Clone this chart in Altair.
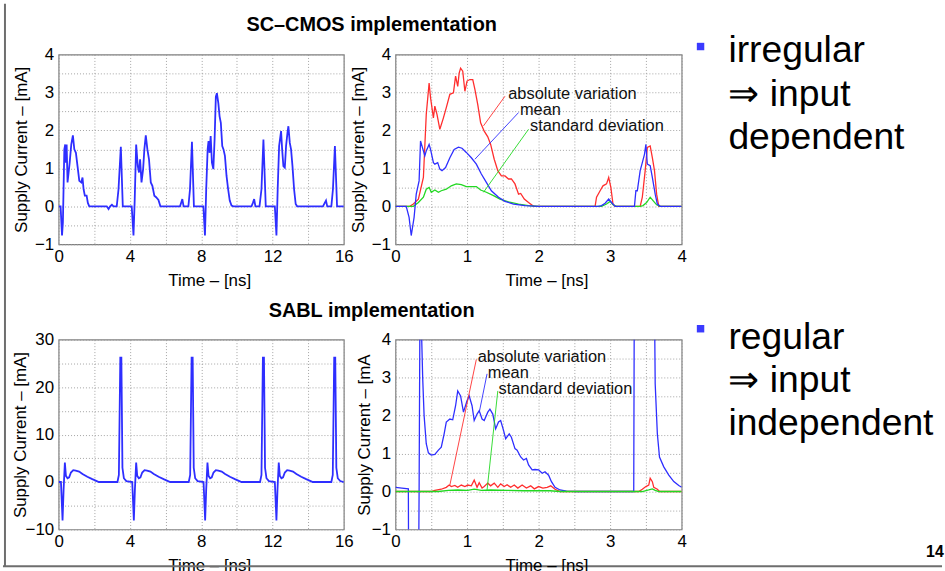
import altair as alt
import pandas as pd

# ---------------- data ----------------
# SC-CMOS, supply current over 16 ns (top left)
p1_t = [0, 0.11, 0.19, 0.24, 0.32, 0.37, 0.41, 0.45, 0.5, 0.56,
        0.62, 0.71, 0.8, 0.88, 0.97, 1.06, 1.16, 1.27, 1.34, 1.4,
        1.47, 1.57, 1.64, 1.72, 2.7, 2.8, 2.89, 2.99, 3.08, 3.26,
        3.36, 3.49, 3.6, 4.1, 4.2, 4.27, 4.35, 4.44, 4.51, 4.57,
        4.65, 4.74, 4.81, 4.89, 4.98, 5.07, 5.17, 5.26, 5.37, 5.47,
        5.6, 5.71, 6.81, 6.87, 6.94, 7.01, 7.28, 7.37, 7.48, 7.59,
        8.12, 8.21, 8.28, 8.36, 8.41, 8.47, 8.53, 8.6, 8.68, 8.75,
        8.82, 8.88, 8.96, 9.03, 9.1, 9.18, 9.25, 9.33, 9.42, 9.51,
        9.6, 9.7, 9.8, 10.82, 10.9, 10.97, 11.04, 11.27, 11.38, 11.49,
        11.62, 12.13, 12.22, 12.29, 12.37, 12.43, 12.48, 12.54, 12.61, 12.69,
        12.76, 12.84, 12.89, 12.97, 13.04, 13.12, 13.21, 13.3, 13.38, 14.83,
        14.93, 15.0, 15.07, 15.3, 15.39, 15.5, 15.62, 16]
p1_v = [0, 0, -0.77, -0.42, 1.5, 1.63, 1.15, 1.63, 0.63, 0.89,
        1.15, 1.63, 1.87, 1.5, 1.41, 1.06, 0.67, 0.63, 0.76, 0.45,
        0.28, 0.28, 0.09, 0, 0, -0.07, 0, 0.04, 0, 0,
        0.45, 1.57, 0, 0, -0.77, 0.19, 1.63, 1.06, 0.89, 1.24,
        0.63, 0.98, 1.5, 1.87, 1.5, 1.24, 0.63, 0.54, 0.28, 0.24,
        0.17, 0, 0, 0.09, 0.19, 0, 0, 0.45, 1.7, 0,
        0, -0.77, 0.45, 1.5, 1.72, 1.41, 1.85, 1.15, 0.98, 1.76,
        2.89, 2.98, 2.72, 2.37, 2.2, 1.59, 1.5, 1.33, 0.8, 0.45,
        0.15, 0.02, 0, 0, 0.09, 0.19, 0, 0, 0.45, 1.76,
        0, 0, -0.77, 0.45, 1.59, 1.8, 1.98, 1.5, 1.06, 1.02,
        1.59, 1.94, 2.11, 1.67, 1.5, 1.06, 0.45, 0.06, 0, 0,
        0.09, 0.15, 0, 0, 0.45, 1.59, 0, 0]

# SC-CMOS statistics over 4 ns (top right)
p2_abs_t = [0, 0.2, 0.25, 0.32, 0.39, 0.43, 0.47, 0.49, 0.53, 0.55,
            0.58, 0.62, 0.67, 0.71, 0.76, 0.81, 0.84, 0.87, 0.89, 0.91,
            0.94, 0.97, 1.0, 1.04, 1.08, 1.11, 1.15, 1.19, 1.24, 1.29,
            1.33, 1.38, 1.43, 1.48, 1.53, 1.58, 1.62, 1.67, 1.72, 1.75,
            1.8, 1.86, 1.93, 2.79, 2.81, 2.86, 2.9, 2.95, 2.98, 3.01,
            3.04, 3.07, 3.42, 3.45, 3.49, 3.52, 3.56, 3.59, 3.62, 3.65,
            3.68, 4.0]
p2_abs_v = [0, 0, 0.06, 0.19, 0.76, 2.42, 3.25, 2.86, 2.33, 2.64,
            2.42, 2.03, 2.33, 2.6, 2.95, 2.99, 3.43, 3.16, 3.51, 3.64,
            3.56, 3.03, 3.3, 3.34, 3.34, 3.08, 2.68, 2.2, 1.98, 1.83,
            1.63, 1.24, 0.94, 0.8, 0.8, 0.72, 0.72, 0.59, 0.32, 0.34,
            0.19, 0.1, 0, 0, 0.24, 0.41, 0.54, 0.59, 0.76, 0.5,
            0.06, 0, 0, 0.24, 0.94, 1.55, 1.59, 1.28, 0.94, 0.32,
            0, 0]
p2_mean_t = [0, 0.15, 0.19, 0.22, 0.26, 0.29, 0.33, 0.35, 0.39, 0.41,
             0.43, 0.47, 0.49, 0.53, 0.55, 0.59, 0.62, 0.65, 0.7, 0.76,
             0.82, 0.88, 0.93, 0.99, 1.06, 1.13, 1.2, 1.27, 1.34, 1.44,
             1.53, 1.65, 1.81, 2.0, 2.83, 2.88, 2.93, 2.98, 3.02, 3.07,
             3.34, 3.36, 3.38, 3.42, 3.45, 3.48, 3.5, 3.52, 3.56, 3.59,
             3.63, 3.66, 3.7, 4.0]
p2_mean_v = [0, 0, -0.29, -0.77, -0.29, 0.32, 0.67, 1.72, 1.46, 1.33,
             1.46, 1.63, 1.5, 1.15, 1.11, 1.15, 0.98, 0.94, 1.02, 1.28,
             1.5, 1.56, 1.53, 1.42, 1.28, 1.11, 0.85, 0.63, 0.41, 0.24,
             0.13, 0.06, 0.02, 0, 0, 0.02, 0.08, 0.19, 0.1, 0,
             0, 0.41, 0.41, 0.94, 1.15, 1.37, 1.63, 1.11, 1.07, 0.76,
             0.32, 0.06, 0, 0]
p2_std_t = [0, 0.25, 0.32, 0.39, 0.43, 0.47, 0.5, 0.55, 0.6, 0.64,
            0.71, 0.78, 0.85, 0.92, 0.99, 1.06, 1.13, 1.19, 1.27, 1.37,
            1.46, 1.58, 1.72, 1.86, 2.0, 2.88, 2.95, 3.0, 3.04, 3.09,
            3.42, 3.46, 3.51, 3.56, 3.6, 3.65, 3.7, 4.0]
p2_std_v = [0, 0, 0.1, 0.24, 0.45, 0.5, 0.37, 0.43, 0.37, 0.41,
            0.45, 0.54, 0.59, 0.57, 0.52, 0.52, 0.52, 0.43, 0.37, 0.28,
            0.19, 0.12, 0.06, 0.02, 0, 0, 0.06, 0.13, 0.04, 0,
            0, 0.02, 0.1, 0.24, 0.15, 0.04, 0, 0]

# SABL, supply current over 16 ns (bottom left)
p3_t = [0, 0.13, 0.22, 0.28, 0.35, 0.41, 0.5, 0.59, 0.69, 0.82,
        0.96, 1.15, 1.34, 1.61, 1.89, 2.17, 2.26, 3.3, 3.38, 3.46,
        3.52, 3.58, 3.66, 3.8,
        4.13, 4.22, 4.28, 4.35, 4.41, 4.5, 4.59, 4.69, 4.82, 4.96,
        5.15, 5.34, 5.61, 5.89, 6.17, 6.26, 7.3, 7.38, 7.46, 7.52,
        7.58, 7.66, 7.8,
        8.13, 8.22, 8.28, 8.35, 8.41, 8.5, 8.59, 8.69, 8.82, 8.96,
        9.15, 9.34, 9.61, 9.89, 10.17, 10.26, 11.3, 11.38, 11.46, 11.52,
        11.58, 11.66, 11.8,
        12.13, 12.22, 12.28, 12.35, 12.41, 12.5, 12.59, 12.69, 12.82, 12.96,
        13.15, 13.34, 13.61, 13.89, 14.17, 14.26, 15.3, 15.38, 15.46, 15.52,
        15.58, 15.66, 15.8, 16.0]
p3_v = [0, 0, -8.1, -1.5, 4.1, 1.3, 0.8, 1.0, 2.0, 2.5,
        2.4, 2.2, 1.7, 1.1, 0.6, 0.15, 0, 0, 1.5, 26.2,
        26.2, 3.0, 0.8, 0.2,
        0, -8.1, -1.5, 4.1, 1.3, 0.8, 1.0, 2.0, 2.5, 2.4,
        2.2, 1.7, 1.1, 0.6, 0.15, 0, 0, 1.5, 26.2, 26.2,
        3.0, 0.8, 0.2,
        0, -8.1, -1.5, 4.1, 1.3, 0.8, 1.0, 2.0, 2.5, 2.4,
        2.2, 1.7, 1.1, 0.6, 0.15, 0, 0, 1.5, 26.2, 26.2,
        3.0, 0.8, 0.2,
        0, -8.1, -1.5, 4.1, 1.3, 0.8, 1.0, 2.0, 2.5, 2.4,
        2.2, 1.7, 1.1, 0.6, 0.15, 0, 0, 1.5, 26.2, 26.2,
        3.0, 0.8, 0.2, 0]

# SABL statistics over 4 ns (bottom right)
p4_mean_t = [0, 0.09, 0.18, 0.19, 0.31, 0.33, 0.345, 0.36, 0.38, 0.40,
             0.43, 0.46, 0.5, 0.55, 0.6, 0.64, 0.68, 0.71, 0.76, 0.8,
             0.84, 0.87, 0.91, 0.95, 1.0, 1.03, 1.07, 1.1, 1.14, 1.17,
             1.21, 1.24, 1.29, 1.32, 1.36, 1.4, 1.44, 1.47, 1.51, 1.54,
             1.59, 1.62, 1.67, 1.7, 1.75, 1.79, 1.83, 1.86, 1.91, 1.95,
             2.0, 2.05, 2.09, 2.14, 2.18, 2.23, 2.3, 2.39, 2.53, 3.33,
             3.345, 3.6, 3.615, 3.63, 3.66, 3.69, 3.75, 3.82, 3.89, 3.96,
             4.0]
p4_mean_v = [0.11, 0.09, 0.07, -6, -6, 0, 6, 4.5, 3.0, 2.0,
             1.26, 1.02, 0.96, 0.98, 1.09, 1.17, 1.52, 1.83, 1.91, 1.89,
             2.26, 2.65, 2.52, 2.09, 2.39, 2.52, 2.26, 1.87, 2.04, 2.13,
             1.91, 1.87, 2.09, 2.17, 2.04, 1.65, 1.83, 1.87, 1.61, 1.39,
             1.52, 1.43, 1.13, 1.09, 0.91, 0.83, 0.87, 0.7, 0.57, 0.58,
             0.57, 0.48, 0.52, 0.43, 0.26, 0.11, 0.04, 0.01, 0, 0,
             10, 10, 6, 2.83, 1.52, 0.91, 0.65, 0.43, 0.26, 0.16,
             0.11]
p4_abs_t = [0, 0.5, 0.55, 0.64, 0.71, 0.75, 0.78, 0.83, 0.87, 0.92,
            0.97, 1.01, 1.06, 1.1, 1.14, 1.17, 1.21, 1.24, 1.29, 1.33,
            1.38, 1.43, 1.47, 1.52, 1.56, 1.61, 1.66, 1.71, 1.77, 1.83,
            1.89, 1.94, 2.0, 2.06, 2.12, 2.17, 2.23, 2.3, 3.4, 3.45,
            3.5, 3.54, 3.56, 3.59, 3.61, 3.66, 3.69, 4.0]
p4_abs_v = [0, 0, 0.03, 0.06, 0.11, 0.17, 0.13, 0.16, 0.11, 0.17,
            0.13, 0.17, 0.15, 0.3, 0.11, 0.23, 0.09, 0.13, 0.22, 0.15,
            0.22, 0.11, 0.2, 0.13, 0.18, 0.11, 0.17, 0.09, 0.17, 0.09,
            0.15, 0.07, 0.13, 0.09, 0.11, 0.15, 0.06, 0, 0, 0.06,
            0.13, 0.17, 0.35, 0.26, 0.11, 0.06, 0, 0]
p4_std_t = [0, 0.6, 0.74, 0.87, 1.01, 1.1, 1.2, 1.33, 1.56, 1.79,
            2.16, 2.3, 3.45, 3.54, 3.59, 3.63, 3.68, 4.0]
p4_std_v = [0, 0, 0.03, 0.04, 0.03, 0.06, 0.03, 0.04, 0.03, 0.02,
            0.02, 0, 0, 0.04, 0.07, 0.03, 0, 0]

# in-plot annotation labels (anchor in data units) and their pointer lines
ann_labels = ["absolute variation", "mean", "standard deviation"]
p2_ann_t = [1.576, 1.74, 1.88]
p2_ann_v = [2.95, 2.53, 2.12]
p2_ptr = {"t": [1.53, 1.72, 1.86], "v": [2.9, 2.47, 2.03],
          "t2": [1.23, 1.11, 1.23], "v2": [2.12, 1.24, 0.37]}
p4_ann_t = [1.15, 1.29, 1.44]
p4_ann_v = [3.54, 3.13, 2.7]
p4_ptr = {"t": [1.13, 1.28, 1.43], "v": [3.48, 3.1, 2.65],
          "t2": [0.76, 1.17, 1.28], "v2": [0.17, 2.08, 0.04]}

# tick values (grid) and texts
x16_ticks = [0, 2, 4, 6, 8, 10, 12, 14, 16]
x4_ticks = [0, 0.5, 1, 1.5, 2, 2.5, 3, 3.5, 4]
y4_ticks = [-1, -0.5, 0, 0.5, 1, 1.5, 2, 2.5, 3, 3.5, 4]
y30_ticks = [-10, -5, 0, 5, 10, 15, 20, 25, 30]
x_title = "Time – [ns]"
y_title = "Supply Current – [mA]"
y_title_cut = "Supply Current – [mA"
title_top = "SC–CMOS implementation"
title_bottom = "SABL implementation"
bullets_top = ["irregular", "⇒ input", "dependent"]
bullets_bottom = ["regular", "⇒ input", "independent"]
page_number = "14"

# ---------------- styling ----------------
FONT = "Liberation Sans"
BLUE, RED, GREEN = "#2e2eff", "#ff2e2e", "#22d822"
W1, W2, H = 287, 288, 191
AX = 17


def xaxis(vals, every, width):
    return alt.Axis(values=vals, format="~g",
                    labelExpr=f"datum.value % {every} === 0 ? datum.label : ''",
                    title=x_title, titleX=width / 2 + 8, titleY=41,
                    titleBaseline="alphabetic", labelPadding=4,
                    labelOverlap=False, labelFlush=False)


def yaxis(vals, every, title, tx):
    return alt.Axis(values=vals, format="~g",
                    labelExpr=f"datum.value % {every} === 0 ? datum.label : ''",
                    title=title, titleX=tx, labelPadding=5,
                    labelOverlap=False, labelFlush=False)


def enc(xdom, ydom, xa, ya):
    return dict(
        x=alt.X("t:Q", scale=alt.Scale(domain=xdom, nice=False, zero=False), axis=xa),
        y=alt.Y("v:Q", scale=alt.Scale(domain=ydom, nice=False, zero=False), axis=ya),
    )


def line(t, v, color, sw, e):
    return alt.Chart(pd.DataFrame({"t": t, "v": v})).mark_line(
        color=color, strokeWidth=sw, clip=True).encode(**e)


def ann(ts, vs, ptr, e):
    seg = alt.Chart(pd.DataFrame({**ptr, "c": ["a", "m", "s"]})).mark_rule(
        strokeWidth=0.9, clip=True).encode(
        x=e["x"], y=e["y"], x2="t2:Q", y2="v2:Q",
        color=alt.Color("c:N", scale=alt.Scale(domain=["a", "m", "s"],
                                               range=[RED, BLUE, GREEN]), legend=None))
    txt = alt.Chart(pd.DataFrame({"t": ts, "v": vs, "label": ann_labels})).mark_text(
        align="left", baseline="middle", font=FONT, fontSize=16.5, color="#111").encode(
        x=e["x"], y=e["y"], text="label:N")
    return [seg, txt]


def text(label, x, y, size, weight="normal", align="left"):
    return alt.Chart(pd.DataFrame({"label": [label]})).mark_text(
        font=FONT, fontSize=size, fontWeight=weight, align=align,
        baseline="alphabetic", color="#000").encode(
        text="label:N", x=alt.value(x), y=alt.value(y))


def bullet(x, y):
    return alt.Chart(pd.DataFrame({"k": [0]})).mark_square(
        size=56, color="#3a3aff", opacity=1, filled=True).encode(
        x=alt.value(x), y=alt.value(y))


def rule(**kw):
    return alt.Chart(pd.DataFrame({"k": [0]})).mark_rule(
        color="#6e6e6e", strokeWidth=2).encode(**{k: alt.value(v) for k, v in kw.items()})


# ---------------- panels ----------------
e1 = enc([0, 16], [-1, 4], xaxis(x16_ticks, 4, W1), yaxis(y4_ticks, 1, y_title, -28))
p1 = alt.layer(
    rule(x=-54, y=-51, y2=515),
    line(p1_t, p1_v, BLUE, 1.8, e1),
    text(title_top, 315, -24, 20, "bold", "center"),
).properties(width=W1, height=H)

e2 = enc([0, 4], [-1, 4], xaxis(x4_ticks, 1, W2), yaxis(y4_ticks, 1, y_title, -28))
p2 = alt.layer(
    line(p2_abs_t, p2_abs_v, RED, 1.3, e2),
    line(p2_std_t, p2_std_v, GREEN, 1.3, e2),
    line(p2_mean_t, p2_mean_v, BLUE, 1.3, e2),
    *ann(p2_ann_t, p2_ann_v, p2_ptr, e2),
    bullet(307, -8),
    text(bullets_top[0], 335, 8, 37.5),
    text(bullets_top[1], 335, 52, 37.5),
    text(bullets_top[2], 335, 95, 37.5),
).properties(width=W2, height=H)

e3 = enc([0, 16], [-10, 30], xaxis(x16_ticks, 4, W1), yaxis(y30_ticks, 10, y_title, -29))
p3 = alt.layer(
    rule(y=228, x=-56, x2=889),
    line(p3_t, p3_v, BLUE, 1.8, e3),
    text(title_bottom, 315, -23, 20, "bold", "center"),
).properties(width=W1, height=H)

e4 = enc([0, 4], [-1, 4], xaxis(x4_ticks, 1, W2), yaxis(y4_ticks, 1, y_title_cut, -22))
p4 = alt.layer(
    line(p4_abs_t, p4_abs_v, RED, 1.3, e4),
    line(p4_mean_t, p4_mean_v, BLUE, 1.3, e4),
    line(p4_std_t, p4_std_v, GREEN, 1.3, e4),
    *ann(p4_ann_t, p4_ann_v, p4_ptr, e4),
    bullet(307, -11),
    text(bullets_bottom[0], 335, 9, 37.5),
    text(bullets_bottom[1], 335, 53, 37.5),
    text(bullets_bottom[2], 335, 96, 37.5),
    text(page_number, 534, 219, 16, "bold"),
).properties(width=W2, height=H)

chart = alt.concat(
    p1, p2, p3, p4, columns=2,
    spacing={"row": 96, "column": 52},
    bounds="flush",
    padding={"left": 1, "top": 0, "right": 0, "bottom": 0},
).configure(font=FONT).configure_axis(
    domain=False, ticks=False, tickSize=0,
    labelFont=FONT, titleFont=FONT, labelFontSize=AX, titleFontSize=AX,
    titleFontWeight="normal", labelColor="#000", titleColor="#000",
    gridColor="#9a9a9a", gridDash=[1, 2], gridWidth=0.9, gridOpacity=1,
).configure_view(stroke="#808080", strokeWidth=1.2)

chart.save("out.html", embed_options={"renderer": "svg", "actions": False})
